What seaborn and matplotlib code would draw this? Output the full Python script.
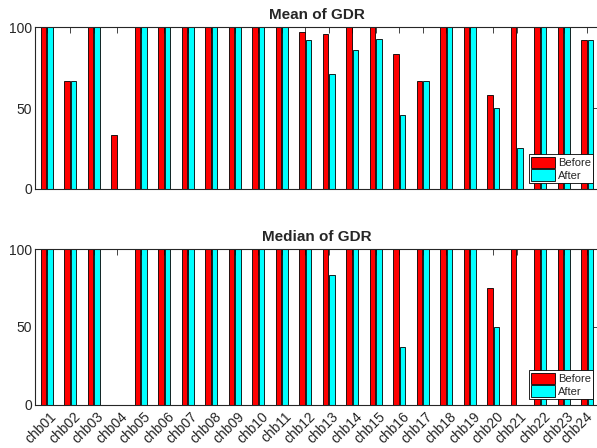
import numpy as np
import pandas as pd
import matplotlib
matplotlib.use("Agg")
import matplotlib.pyplot as plt
import matplotlib.transforms as mtransforms
import seaborn as sns

subjects = [f"chb{i:02d}" for i in range(1, 25)]

mean_before = [100, 66.7, 100, 33.3, 100, 100, 100, 100, 100, 100, 100, 96.7,
               95.7, 100, 100, 83.3, 66.7, 100, 100, 58.3, 100, 100, 100, 91.7]
mean_after = [100, 66.7, 100, 0, 100, 100, 100, 100, 100, 100, 100, 92.2,
              70.8, 85.7, 92.9, 45.8, 66.7, 100, 100, 50.0, 25.0, 100, 100, 91.7]

median_before = [100, 100, 100, 0, 100, 100, 100, 100, 100, 100, 100, 100,
                 100, 100, 100, 100, 100, 100, 100, 75.0, 100, 100, 100, 100]
median_after = [100, 100, 100, 0, 100, 100, 100, 100, 100, 100, 100, 100,
                83.3, 100, 100, 37.5, 100, 100, 100, 50.0, 0, 100, 100, 100]

phases = ["Before", "After"]
colors = ["#ff0000", "#00ffff"]

sns.set_style("white")
plt.rcParams["font.family"] = ["Liberation Sans", "DejaVu Sans"]

fig = plt.figure(figsize=(5.97, 4.48), dpi=100)
ax_top = fig.add_axes([35 / 597, 1 - 189 / 448, 564 / 597, 162 / 448])
ax_bot = fig.add_axes([35 / 597, 1 - 405 / 448, 564 / 597, 156 / 448])


def long_frame(before, after):
    return pd.DataFrame({
        "subject": subjects * 2,
        "value": list(before) + list(after),
        "phase": ["Before"] * len(subjects) + ["After"] * len(subjects),
    })


panels = [
    (ax_top, long_frame(mean_before, mean_after), "Mean of GDR"),
    (ax_bot, long_frame(median_before, median_after), "Median of GDR"),
]

for ax, df, title in panels:
    sns.barplot(data=df, x="subject", y="value", hue="phase",
                hue_order=phases, palette=colors, order=subjects,
                saturation=1, width=0.52, gap=0.1, edgecolor="black",
                linewidth=0.6, errorbar=None, ax=ax)
    ax.set_xlim(-0.5, len(subjects) - 0.5)
    ax.set_ylim(0, 100)
    ax.set_yticks([0, 50, 100])
    ax.set_xlabel("")
    ax.set_ylabel("")
    ax.set_title(title, fontsize=11, fontweight="bold", pad=5.5)
    for s in ax.spines.values():
        s.set_color("#262626")
        s.set_linewidth(0.8)
    ax.tick_params(axis="both", direction="in", length=4, width=0.6,
                   color="#262626", labelsize=10, labelcolor="#262626",
                   top=True, right=True, pad=2)
    leg = ax.legend(loc="lower right", fontsize=8, frameon=True, fancybox=False,
                    edgecolor="black", framealpha=1, handlelength=2.2,
                    handleheight=1.25, handletextpad=0.2, labelspacing=0.05,
                    borderpad=0.2, borderaxespad=0.55)
    leg.get_frame().set_linewidth(0.6)

ax_top.set_xticks(range(len(subjects)))
ax_top.set_xticklabels([])
ax_bot.set_xticks(range(len(subjects)))
ax_bot.set_xticklabels(subjects, rotation=45, ha="right", va="top",
                       rotation_mode="anchor")
ax_bot.tick_params(axis="x", pad=3)
# nudge the rotated labels right; the last one stays inside the figure edge
labels = ax_bot.get_xticklabels()
for i, lbl in enumerate(labels):
    dx = 3 if i < len(labels) - 1 else -2
    shift = mtransforms.ScaledTranslation(dx / 100, 0, fig.dpi_scale_trans)
    lbl.set_transform(lbl.get_transform() + shift)

fig.savefig("out.png", dpi=100)
